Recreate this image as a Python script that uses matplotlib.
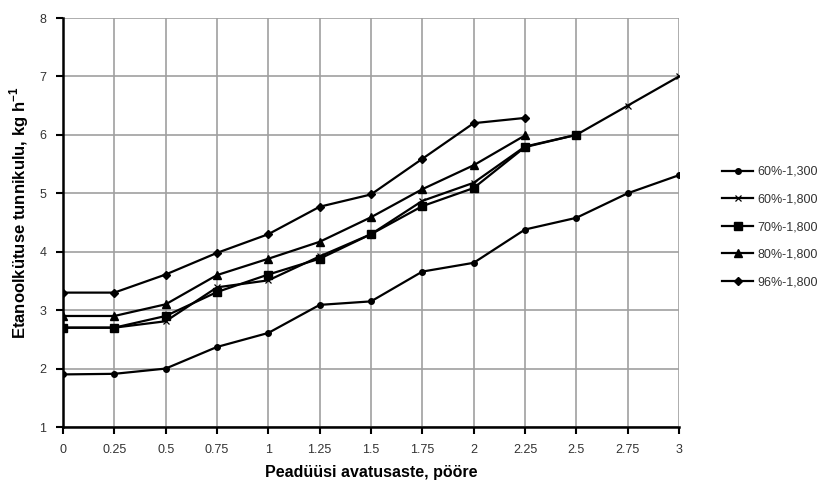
import matplotlib
matplotlib.use("Agg")
import matplotlib.pyplot as plt

plt.rcParams['font.family'] = ['Liberation Sans', 'DejaVu Sans']
plt.rcParams['mathtext.fontset'] = 'custom'
plt.rcParams['mathtext.rm'] = 'Liberation Sans'
plt.rcParams['mathtext.bf'] = 'Liberation Sans:bold'

x_vals = [0, 0.25, 0.5, 0.75, 1, 1.25, 1.5, 1.75, 2, 2.25, 2.5, 2.75, 3]
x_ticklabels = ['0', '0.25', '0.5', '0.75', '1', '1.25', '1.5', '1.75', '2', '2.25', '2.5', '2.75', '3']

s60_1300 = [1.90, 1.91, 2.00, 2.37, 2.61, 3.09, 3.15, 3.66, 3.81, 4.38, 4.58, 5.00, 5.31]
s60_1800 = [2.70, 2.70, 2.81, 3.39, 3.51, 3.92, 4.30, 4.87, 5.18, 5.80, 6.00, 6.50, 7.00]
s70_1800 = [2.70, 2.70, 2.90, 3.31, 3.61, 3.88, 4.30, 4.78, 5.09, 5.79, 6.00]
s80_1800 = [2.90, 2.90, 3.10, 3.60, 3.88, 4.17, 4.59, 5.07, 5.48, 5.99]
s96_1800 = [3.30, 3.30, 3.61, 3.98, 4.30, 4.77, 4.98, 5.59, 6.20, 6.29]

labels = ['60%-1,300', '60%-1,800', '70%-1,800', '80%-1,800', '96%-1,800']

fig = plt.figure(figsize=(8.19, 4.86), dpi=100)
ax = fig.add_axes([63/819, 1-427/486, (679-63)/819, (427-18)/486])

lw = 1.6
ax.plot(x_vals[:len(s60_1300)], s60_1300, color='black', lw=lw, marker='o', ms=4, label=labels[0], zorder=3)
ax.plot(x_vals[:len(s60_1800)], s60_1800, color='black', lw=lw, marker='x', ms=4, mew=0.9, label=labels[1], zorder=3)
ax.plot(x_vals[:len(s70_1800)], s70_1800, color='black', lw=lw, marker='s', ms=6, label=labels[2], zorder=3)
ax.plot(x_vals[:len(s80_1800)], s80_1800, color='black', lw=lw, marker='^', ms=6, label=labels[3], zorder=3)
ax.plot(x_vals[:len(s96_1800)], s96_1800, color='black', lw=lw, marker='D', ms=4, label=labels[4], zorder=3)

ax.set_xlim(0, 3)
ax.set_ylim(1, 8)
ax.set_xticks(x_vals)
ax.set_xticklabels(x_ticklabels)
ax.set_yticks(range(1, 9))
ax.grid(True, color='#a0a0a0', lw=1.2, zorder=0)
ax.set_axisbelow(True)
for s in ['top', 'right']:
    ax.spines[s].set_visible(False)
for s in ['left', 'bottom']:
    ax.spines[s].set_linewidth(1.8)
    ax.spines[s].set_color('black')
ax.tick_params(axis='both', direction='out', length=5, width=1.5, labelsize=9, colors='black',
               labelcolor='#333333', pad=7)

ax.set_xlabel('Peadüüsi avatusaste, pööre', fontsize=11.5, fontweight='bold', labelpad=7)
ax.set_ylabel(r'Etanoolkütuse tunnikulu, kg h$^{\mathbf{-1}}$', fontsize=12, fontweight='bold')
ax.yaxis.set_label_coords(-32/616, 0.525)

leg = ax.legend(loc='upper left', frameon=False, fontsize=9, borderpad=0, borderaxespad=0,
                handlelength=2.5, labelspacing=1.25, handletextpad=0.3, labelcolor='#333333')
leg.set_bbox_to_anchor((722/819, 1-166/486), transform=fig.transFigure)

fig.savefig('out.png', dpi=100)
